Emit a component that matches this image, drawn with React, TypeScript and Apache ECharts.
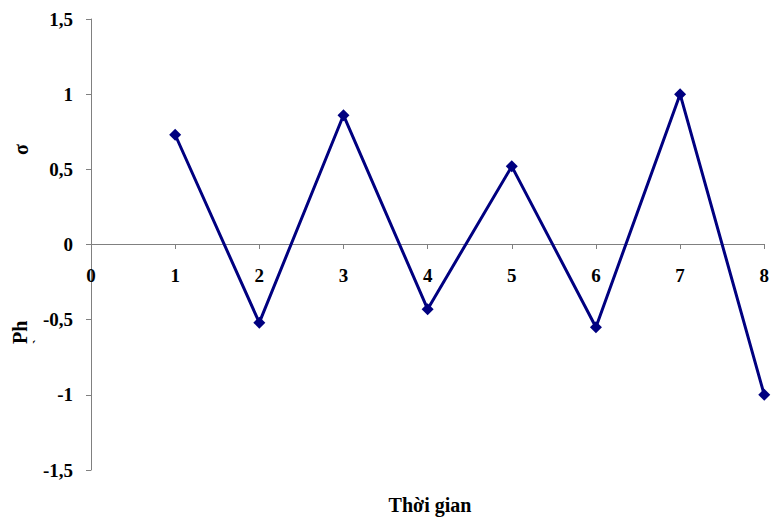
import React, { useEffect, useRef } from "react";
import * as echarts from "echarts";

const xValues = [1, 2, 3, 4, 5, 6, 7, 8];
const yValues = [0.73, -0.52, 0.86, -0.43, 0.52, -0.55, 1.0, -1.0];
const xTitle = "Thời gian";
const yTitleTop = "σ";
const yTitleBottom = "Ph";
const yTitleMark = "`";

export default function App() {
  const ref = useRef<HTMLDivElement>(null);
  useEffect(() => {
    if (!ref.current) return;
    const chart = echarts.init(ref.current, undefined, { renderer: "svg" });
    const font = "Times New Roman";
    const vText = (text: string, x: number, y: number, size: number) => ({
      type: "text",
      x,
      y,
      rotation: Math.PI / 2,
      style: {
        text,
        fontFamily: font,
        fontWeight: "bold",
        fontSize: size,
        fill: "#000",
      },
    });
    chart.setOption({
      animation: false,
      backgroundColor: "#ffffff",
      grid: { left: 91, right: 3, top: 19, bottom: 48, containLabel: false },
      xAxis: {
        type: "value",
        min: 0,
        max: 8,
        interval: 1,
        offset: -226,
        axisLine: { onZero: false, lineStyle: { color: "#808080", width: 1 } },
        axisTick: { show: true, inside: false, length: 5, lineStyle: { color: "#808080" } },
        axisLabel: {
          margin: 22,
          color: "#000",
          fontFamily: font,
          fontWeight: "bold",
          fontSize: 19,
          showMinLabel: true,
          showMaxLabel: true,
        },
        splitLine: { show: false },
      },
      yAxis: {
        type: "value",
        min: -1.5,
        max: 1.5,
        interval: 0.5,
        axisLine: { show: true, onZero: false, lineStyle: { color: "#808080", width: 1 } },
        axisTick: { show: true, length: 5, lineStyle: { color: "#808080" } },
        axisLabel: {
          margin: 18,
          color: "#000",
          fontFamily: font,
          fontWeight: "bold",
          fontSize: 19,
          formatter: (v: number) => String(v).replace(".", ","),
        },
        splitLine: { show: false },
      },
      graphic: [
        {
          type: "text",
          x: 430,
          y: 495,
          style: {
            text: xTitle,
            fontFamily: font,
            fontWeight: "bold",
            fontSize: 20,
            fill: "#000",
            align: "center",
            verticalAlign: "top",
          },
        },
        vText(yTitleTop, 11, 155, 20),
        vText(yTitleBottom, 10, 344, 20),
        vText(yTitleMark, 31, 344, 14),
      ],
      series: [
        {
          type: "line",
          data: xValues.map((x, i) => [x, yValues[i]]),
          symbol: "diamond",
          symbolSize: 12,
          lineStyle: { color: "#000080", width: 3 },
          itemStyle: { color: "#000080" },
        },
      ],
    });
    return () => chart.dispose();
  }, []);
  return <div ref={ref} style={{ width: 772, height: 518, position: "absolute", left: 0, top: 0 }} />;
}
